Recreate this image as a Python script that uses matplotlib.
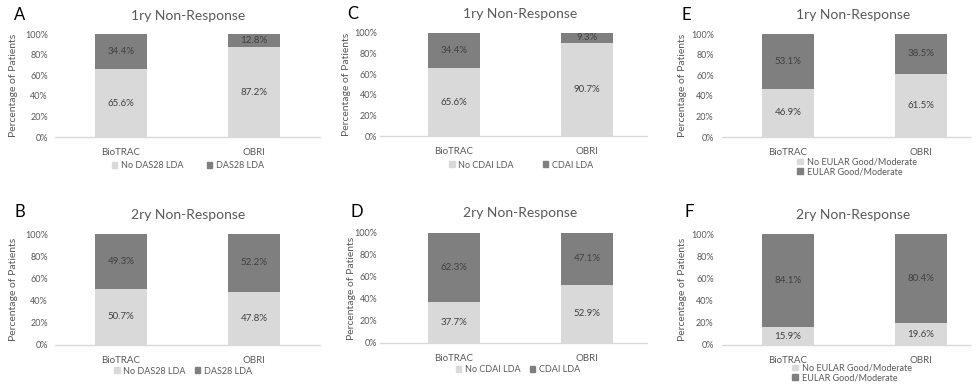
import matplotlib
matplotlib.use("Agg")
import matplotlib.pyplot as plt
from matplotlib.patches import Patch

plt.rcParams["font.family"] = ["Lato", "DejaVu Sans"]

# data
groups = ["BioTRAC", "OBRI"]
no_das28_1ry = [65.6, 87.2]
das28_1ry = [34.4, 12.8]
no_das28_2ry = [50.7, 47.8]
das28_2ry = [49.3, 52.2]
no_cdai_1ry = [65.6, 90.7]
cdai_1ry = [34.4, 9.3]
no_cdai_2ry = [37.7, 52.9]
cdai_2ry = [62.3, 47.1]
no_eular_1ry = [46.9, 61.5]
eular_1ry = [53.1, 38.5]
no_eular_2ry = [15.9, 19.6]
eular_2ry = [84.1, 80.4]

W, H = 979, 389
LIGHT = "#d9d9d9"
DARK = "#7f7f7f"
TXT = "#595959"

fig = plt.figure(figsize=(W / 100, H / 100), dpi=100)


def fx(px):
    return px / W


def fy(py):
    return 1 - py / H


# panel layouts in pixels: axis left/right, top(100%)/bottom(0%), bar centers
panels = [
    dict(letter="A", title="1ry Non-Response", low=no_das28_1ry, high=das28_1ry,
         names=["No DAS28 LDA", "DAS28 LDA"], box=(55, 320, 34, 137), cen=(121, 254),
         title_xy=(188, 16), letter_xy=(20, 15), ylab_x=14, ypad=5, leg=(188, 166), ncol=2, colsp=2.6),
    dict(letter="C", title="1ry Non-Response", low=no_cdai_1ry, high=cdai_1ry,
         names=["No CDAI LDA", "CDAI LDA"], box=(380, 647, 33, 136), cen=(454, 587),
         title_xy=(520, 14), letter_xy=(353, 14), ylab_x=347, ypad=2, leg=(521, 165), ncol=2, colsp=3.2),
    dict(letter="E", title="1ry Non-Response", low=no_eular_1ry, high=eular_1ry,
         names=["No EULAR Good/Moderate", "EULAR Good/Moderate"], box=(722, 970, 34, 137), cen=(788, 921),
         title_xy=(853, 15), letter_xy=(686, 15), ylab_x=683, ypad=6, leg=(857, 167), ncol=1, colsp=1),
    dict(letter="B", title="2ry Non-Response", low=no_das28_2ry, high=das28_2ry,
         names=["No DAS28 LDA", "DAS28 LDA"], box=(55, 320, 234, 345), cen=(121, 254),
         title_xy=(188, 215), letter_xy=(20, 212), ylab_x=14, ypad=5, leg=(183, 371), ncol=2, colsp=1.0),
    dict(letter="D", title="2ry Non-Response", low=no_cdai_2ry, high=cdai_2ry,
         names=["No CDAI LDA", "CDAI LDA"], box=(380, 647, 233, 343), cen=(454, 587),
         title_xy=(520, 213), letter_xy=(357, 212), ylab_x=351, ypad=2, leg=(518, 370), ncol=2, colsp=1.0),
    dict(letter="F", title="2ry Non-Response", low=no_eular_2ry, high=eular_2ry,
         names=["No EULAR Good/Moderate", "EULAR Good/Moderate"], box=(722, 970, 234, 345), cen=(788, 921),
         title_xy=(853, 215), letter_xy=(689, 212), ylab_x=683, ypad=6, leg=(852, 373), ncol=1, colsp=1),
]

for p in panels:
    l, r, t, b = p["box"]
    ax = fig.add_axes([fx(l), fy(b), fx(r - l), (b - t) / H])
    c0, c1 = p["cen"]
    step = c1 - c0
    ax.set_xlim(-(c0 - l) / step, 1 + (r - c1) / step)
    ax.set_ylim(0, 100)
    xs = range(len(groups))
    ax.bar(xs, p["low"], width=52 / step, color=LIGHT, label=p["names"][0])
    ax.bar(xs, p["high"], width=52 / step, bottom=p["low"], color=DARK, label=p["names"][1])
    for i in xs:
        lo, hi = p["low"][i], p["high"][i]
        ax.text(i, lo / 2, f"{lo:.1f}%", ha="center", va="center", fontsize=7, color="#404040")
        ax.text(i, lo + hi / 2, f"{hi:.1f}%", ha="center", va="center", fontsize=7, color="#404040")
    ax.set_xticks(list(xs))
    ax.set_xticklabels(groups, fontsize=7, color=TXT)
    ax.set_yticks([0, 20, 40, 60, 80, 100])
    ax.set_yticklabels([f"{v}%" for v in [0, 20, 40, 60, 80, 100]], fontsize=6.5, color=TXT)
    ax.tick_params(length=0, axis="both")
    ax.tick_params(axis="x", pad=8)
    ax.tick_params(axis="y", pad=p["ypad"])
    for s in ["top", "right", "left"]:
        ax.spines[s].set_visible(False)
    ax.spines["bottom"].set_color(LIGHT)
    ax.spines["bottom"].set_linewidth(1)
    fig.text(fx(p["ylab_x"]), fy((t + b) / 2), "Percentage of Patients", rotation=90,
             ha="center", va="center", fontsize=7.5, color=TXT)
    fig.text(fx(p["title_xy"][0]), fy(p["title_xy"][1]), p["title"], ha="center", va="center",
             fontsize=10, color=TXT)
    fig.text(fx(p["letter_xy"][0]), fy(p["letter_xy"][1]), p["letter"], ha="center", va="center",
             fontsize=12, color="black")
    handles = [Patch(color=LIGHT), Patch(color=DARK)]
    fig.legend(handles, p["names"], loc="center", bbox_to_anchor=(fx(p["leg"][0]), fy(p["leg"][1])),
               ncol=p["ncol"], frameon=False, fontsize=6.5, labelcolor=TXT,
               handlelength=0.6, handleheight=0.6, handletextpad=0.4,
               columnspacing=p["colsp"], borderpad=0, labelspacing=0.1)

fig.savefig("out.png", dpi=100)
